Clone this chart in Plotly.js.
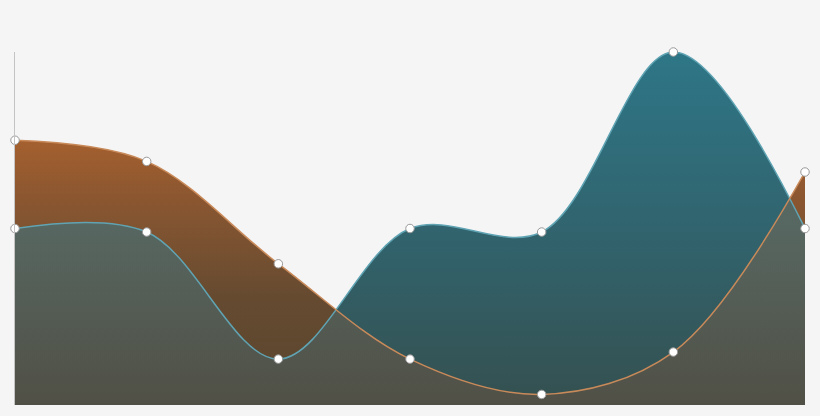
<!DOCTYPE html>
<html>
<head>
<meta charset="utf-8">
<script src="https://cdn.plot.ly/plotly-3.0.1.min.js"></script>
<style>
  html, body { margin: 0; padding: 0; background: #f5f5f5; }
  #chart { width: 820px; height: 416px; }
</style>
</head>
<body>
<div id="chart"></div>
<script>
// Data
const steps = [0, 1, 2, 3, 4, 5, 6];
const amber = [75, 69, 40, 13, 3, 15, 66];
const teal = [50, 49, 13, 50, 49, 100, 50];

const markerStyle = {
	size: 8.5,
	color: "#ffffff",
	line: { color: "#999999", width: 1 },
};

function area(y, scale) {
	return {
		x: steps,
		y: y,
		type: "scatter",
		mode: "lines",
		fill: "tozeroy",
		line: { shape: "spline", smoothing: 1, width: 0 },
		fillgradient: { type: "vertical", start: 0, stop: 100, colorscale: scale },
		hoverinfo: "skip",
	};
}

function outline(y, color) {
	return {
		x: steps,
		y: y,
		type: "scatter",
		mode: "lines+markers",
		line: { shape: "spline", smoothing: 1, width: 1.5, color: color },
		marker: markerStyle,
		cliponaxis: false,
	};
}

const data = [
	// solid amber base (the wash below sits on it)
	area(amber, [
		[0, "#463c2d"],
		[0.15, "#4d391d"],
		[0.3, "#543617"],
		[0.58, "#96430e"],
		[0.75, "#c8550a"],
		[1, "#e0600a"],
	]),
	// solid teal area
	area(teal, [
		[0, "#355050"],
		[0.5, "#31646e"],
		[1, "#2e7687"],
	]),
	// half-clear wash so the overlap turns grey
	area(amber, [
		[0, "rgba(108,80,60,0.5)"],
		[0.5, "rgba(124,104,82,0.5)"],
		[1, "rgba(135,110,85,0.5)"],
	]),
	outline(teal, "#60a4b4"),
	outline(amber, "#c98a5a"),
];

const layout = {
	width: 820,
	height: 416,
	paper_bgcolor: "#f5f5f5",
	plot_bgcolor: "#f5f5f5",
	showlegend: false,
	margin: { l: 15, r: 15, t: 52, b: 11 },
	xaxis: {
		range: [0, 6],
		showgrid: false,
		zeroline: false,
		showticklabels: false,
		showline: false,
		fixedrange: true,
	},
	yaxis: {
		range: [0, 100],
		showgrid: false,
		zeroline: false,
		showticklabels: false,
		showline: true,
		linecolor: "#c4c4c4",
		linewidth: 1,
		fixedrange: true,
	},
};

const config = { displayModeBar: false, staticPlot: true };

Plotly.newPlot("chart", data, layout, config);
</script>
</body>
</html>
